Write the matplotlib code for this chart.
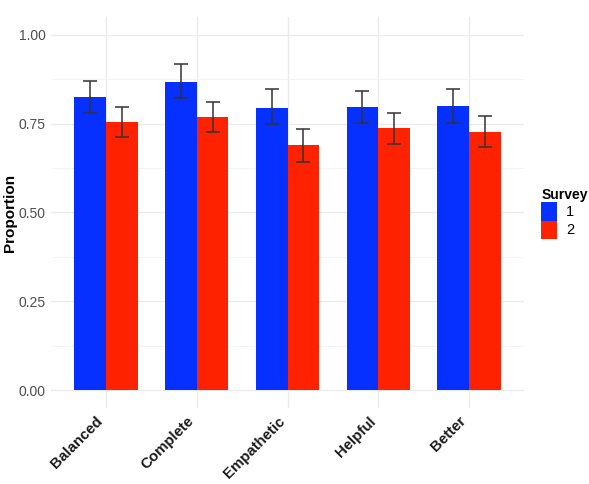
import matplotlib
matplotlib.use("Agg")
import matplotlib.pyplot as plt
import matplotlib.transforms as mtransforms
import numpy as np
from matplotlib.patches import Patch

plt.rcParams['font.family'] = ['Liberation Sans', 'DejaVu Sans']

categories = ["Balanced", "Complete", "Empathetic", "Helpful", "Better"]
survey_labels = ["1", "2"]
survey1 = [0.824, 0.868, 0.795, 0.798, 0.800]
survey1_lo = [0.780, 0.823, 0.748, 0.753, 0.753]
survey1_hi = [0.871, 0.918, 0.846, 0.842, 0.847]
survey2 = [0.754, 0.768, 0.690, 0.738, 0.725]
survey2_lo = [0.713, 0.727, 0.643, 0.694, 0.684]
survey2_hi = [0.797, 0.811, 0.735, 0.780, 0.770]
yticks = [0.00, 0.25, 0.50, 0.75, 1.00]
ytick_labels = ["0.00", "0.25", "0.50", "0.75", "1.00"]

colors = ["#0630FF", "#FF2200"]

fig = plt.figure(figsize=(5.89, 4.84), dpi=100)
ax = fig.add_axes([0.0873, 0.157, 0.889 - 0.0873, 0.965 - 0.157])

x = np.arange(len(categories))
w = 0.35
series = [(survey1, survey1_lo, survey1_hi), (survey2, survey2_lo, survey2_hi)]
for i, (vals, lo, hi) in enumerate(series):
    xpos = x + (i - 0.5) * w
    ax.bar(xpos, vals, width=w, color=colors[i], zorder=2, linewidth=0)
    vals_a = np.array(vals)
    yerr = [vals_a - np.array(lo), np.array(hi) - vals_a]
    ax.errorbar(xpos, vals, yerr=yerr, fmt='none', ecolor='#333333',
                elinewidth=1.1, capsize=5, capthick=1.1, zorder=3)

ax.set_xlim(-0.6, len(categories) - 0.4)
ax.set_ylim(-0.05, 1.05)
ax.set_yticks(yticks)
ax.set_yticklabels(ytick_labels, fontsize=10, color='#4d4d4d')
ax.set_yticks([0.125, 0.375, 0.625, 0.875], minor=True)
ax.set_xticks(x)
ax.set_xticklabels([])
ax.tick_params(axis='both', which='both', length=0)
ax.tick_params(axis='y', pad=4)

offset = mtransforms.ScaledTranslation(-10 / 100, -6 / 100, fig.dpi_scale_trans)
trans = ax.get_xaxis_transform() + offset
for xi, cat in zip(x, categories):
    ax.text(xi, 0, cat, transform=trans, rotation=45, ha='right', va='top',
            rotation_mode='anchor', fontsize=10.8, fontweight='bold', color='#1a1a1a')

ax.grid(True, which='major', color='#ebebeb', linewidth=1.0, zorder=0)
ax.grid(True, which='minor', axis='y', color='#f3f3f3', linewidth=0.6, zorder=0)
ax.set_axisbelow(True)
for s in ax.spines.values():
    s.set_visible(False)

ax.set_ylabel("Proportion", fontsize=11, fontweight='bold')
ax.yaxis.set_label_coords(-0.073, 0.5)

handles = [Patch(facecolor=colors[i], edgecolor='none', label=survey_labels[i]) for i in range(2)]
leg = fig.legend(handles=handles, title="Survey", loc='upper left',
                 bbox_to_anchor=(0.919, 0.611), frameon=False, fontsize=10.5,
                 title_fontproperties={'weight': 'bold', 'size': 10},
                 handlelength=1.1, handleheight=1.55, handletextpad=0.6,
                 labelspacing=0.0, borderaxespad=0, borderpad=0, alignment='left')

fig.savefig("out.png", dpi=100)
